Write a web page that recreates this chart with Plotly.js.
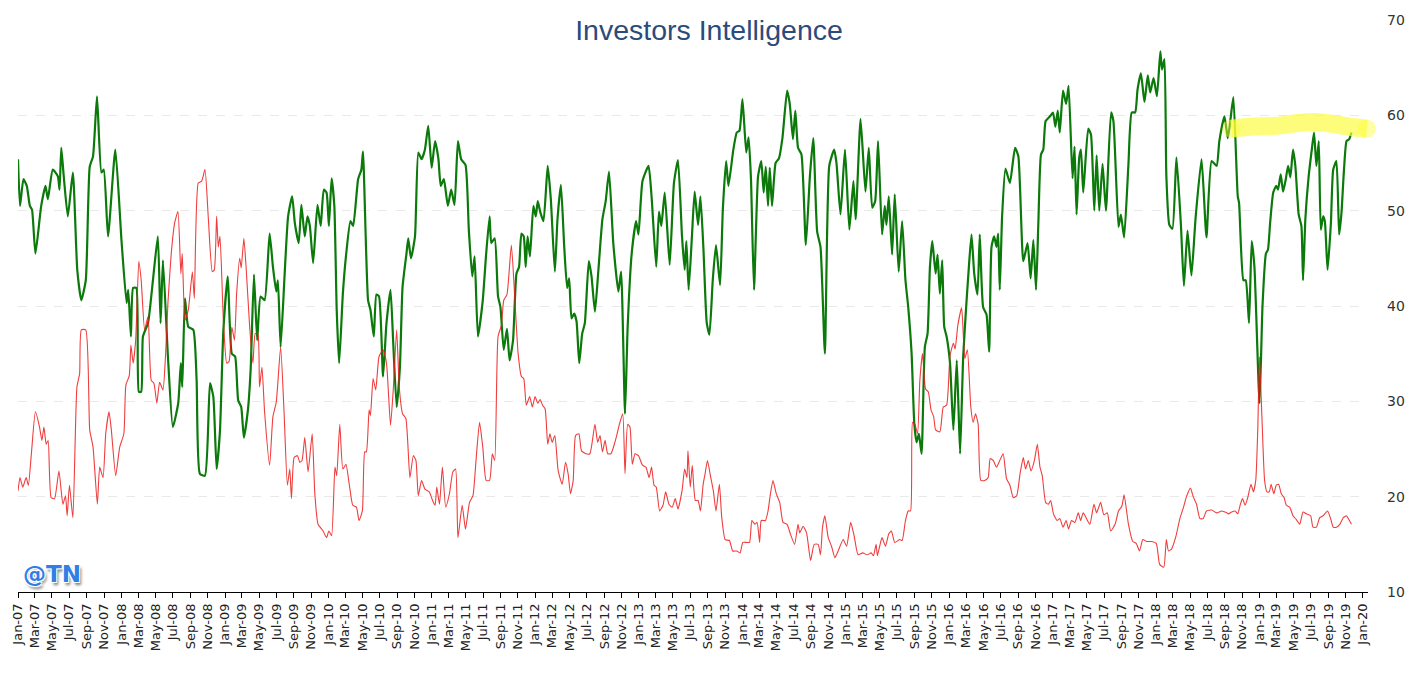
<!DOCTYPE html>
<html>
<head>
<meta charset="utf-8">
<script src="https://cdn.plot.ly/plotly-3.0.1.min.js"></script>
<style>
  html, body { margin: 0; padding: 0; background: #ffffff; }
  #chart { width: 1416px; height: 693px; }
</style>
</head>
<body>
<div id="chart"></div>
<script>
// Positions along time are given as months elapsed since 1 Jan 2007.
const bullsMonths = [
0.0,0.23,0.62,1.0,1.39,1.66,2.08,2.74,3.24,3.51,4.09,4.67,4.86,5.06,5.33,5.83,6.41,6.91,7.37,7.88,8.34,8.73,9.19,9.69,9.96,10.46,11.31,12.01,12.59,12.78,13.09,13.36,13.75,14.05,14.32,14.52,15.1,15.68,16.25,16.56,16.83,17.41,17.99,
18.6,18.9,19.06,19.37,19.75,20.33,20.72,21.1,21.68,22.26,22.65,23.04,23.42,23.81,24.31,24.77,25.16,25.55,25.93,26.24,26.7,27.01,27.4,27.78,28.17,28.63,29.21,29.6,29.99,30.18,30.49,30.95,31.34,31.8,32.11,32.57,32.88,33.27,33.58,33.85,34.23,34.74,35.12,35.47,35.78,36.05,36.36,36.67,36.94,37.24,37.71,38.09,38.6,
38.91,39.49,39.87,40.06,40.64,40.91,41.3,41.61,41.92,42.38,42.77,43.23,43.54,43.93,44.31,44.62,45.08,45.28,45.59,46.05,46.44,46.82,47.21,47.59,47.98,48.37,48.75,49.02,49.41,49.91,50.3,50.68,51.07,51.45,51.96,52.34,52.73,53.0,53.39,53.96,54.35,54.74,54.93,55.32,55.7,55.97,56.36,56.74,57.05,57.44,57.83,58.13,58.41,58.68,58.91,
59.13,59.4,59.79,60.06,60.29,60.56,60.94,61.45,61.83,62.3,62.6,62.99,63.38,63.72,63.96,64.23,64.53,64.8,65.11,65.46,65.77,66.23,66.54,66.93,67.31,67.78,68.16,68.55,69.05,69.63,69.94,70.4,70.71,71.18,71.68,71.95,72.41,73.11,73.49,74.07,74.38,74.65,75.04,75.62,76.12,76.58,77.04,77.35,77.55,77.82,78.2,78.51,78.9,79.17,
79.51,79.89,80.2,80.59,80.97,81.44,81.75,82.13,82.4,82.98,83.37,83.68,84.02,84.45,84.72,84.99,85.37,85.88,86.26,86.53,86.77,87.03,87.23,87.5,87.92,88.31,88.7,89.24,89.54,89.93,90.2,90.51,90.9,91.4,91.86,92.25,92.71,93.1,93.6,94.1,94.68,94.95,95.41,95.92,96.42,96.88,97.15,97.77,98.35,98.73,99.12,99.47,
99.81,100.27,100.58,100.77,101.04,101.43,101.74,102.2,102.59,102.97,103.28,103.67,103.98,104.25,104.52,104.83,105.21,105.52,105.79,106.06,106.45,106.68,106.95,107.22,107.45,107.72,108.11,108.49,108.88,109.27,109.65,110.04,110.35,110.62,110.93,111.31,111.58,111.97,112.36,112.66,112.93,113.24,113.51,113.71,113.9,114.17,114.55,115.06,115.64,116.02,116.6,117.1,117.45,117.76,118.07,118.34,118.65,118.92,119.19,119.69,
120.03,120.3,120.57,120.8,121.19,121.58,121.89,122.35,122.58,122.81,123.12,123.32,123.59,124.17,124.48,124.86,125.13,125.44,125.83,126.22,126.8,127.07,127.65,127.92,128.3,128.81,129.19,129.58,129.85,130.24,130.66,131.05,131.32,131.71,132.09,132.48,132.67,132.95,133.18,133.56,133.95,134.41,134.92,135.27,135.69,136.15,136.62,137.31,137.89,138.48,139.05,139.36,139.94,
140.33,140.6,140.99,141.49,141.64,142.14,142.41,142.8,143.11,143.42,144.0,144.34,144.73,144.96,145.23,145.62,146.0,146.2,146.51,146.78,147.09,147.36,147.63,147.94,148.21,148.59,148.9,149.09,149.36,149.75,150.14,150.37,150.64,150.91,151.14,151.41,151.6,151.91,152.3,152.57,152.95,153.26,153.53,153.8,154.11,154.42,154.69
];
const bullsValues = [
55.4,50.5,53.3,52.6,50.5,50.1,45.5,50.5,52.6,51.2,54.3,53.6,52.2,56.6,53.8,49.4,54.0,43.8,40.6,42.7,54.6,55.7,62.0,54.0,54.3,47.3,56.4,46.9,40.3,41.7,36.8,41.9,41.9,31.0,31.0,36.8,38.2,42.7,47.3,38.2,44.8,34.7,27.3,
29.8,34.0,31.5,40.8,37.8,37.5,32.2,22.4,22.2,31.9,30.5,22.9,26.9,37.5,43.1,35.0,34.7,30.1,29.4,26.2,29.1,33.3,43.3,36.4,41.0,40.6,47.6,44.1,41.5,42.7,35.7,43.4,49.4,51.5,48.7,46.6,50.6,47.3,49.4,48.4,44.5,50.6,48.4,52.2,51.9,48.4,53.4,50.5,39.6,34.0,41.3,45.2,48.9,
48.4,53.3,54.3,56.2,40.6,39.6,36.8,41.2,41.0,32.6,38.2,41.7,36.1,29.4,33.6,42.0,45.5,47.1,45.0,47.3,56.1,55.4,56.4,58.9,54.5,57.3,55.4,52.6,53.3,50.5,52.2,50.6,57.3,55.4,54.8,48.0,43.1,45.2,36.8,40.6,45.5,49.4,46.6,47.1,41.0,39.9,35.4,37.6,34.3,36.4,43.4,44.1,47.6,47.3,44.1,
47.3,45.2,50.5,49.4,51.0,49.9,48.9,54.7,51.2,43.6,49.1,52.7,46.2,41.9,42.9,38.7,39.2,38.4,34.0,37.1,38.2,44.7,43.1,39.4,43.6,49.1,51.0,54.1,46.6,41.5,43.6,28.7,37.8,45.5,48.9,47.5,53.1,54.7,51.5,44.1,49.9,48.4,51.9,44.3,52.9,55.3,47.3,43.8,46.8,41.7,47.3,52.0,48.5,51.5,
46.0,38.2,37.0,42.7,46.4,42.2,50.1,55.2,52.6,56.4,58.2,58.4,61.7,56.1,57.7,53.3,41.7,53.6,55.2,51.9,54.6,50.5,54.5,50.5,55.0,55.5,57.6,62.6,61.3,57.5,60.5,56.6,55.9,46.4,53.6,57.6,47.8,46.2,35.0,54.7,56.4,55.0,49.6,56.4,48.0,53.1,49.1,59.6,52.0,56.6,50.3,51.0,
57.3,47.5,50.5,48.5,51.5,45.4,51.7,43.6,48.9,42.7,39.9,35.0,27.6,25.7,26.6,24.5,35.7,37.1,44.1,46.8,43.4,45.4,41.3,44.8,37.8,36.8,34.0,27.0,34.3,24.5,34.7,40.3,44.5,47.5,43.4,41.2,47.5,39.9,39.1,35.2,46.2,47.3,46.2,47.6,41.7,49.4,54.4,52.9,56.6,55.7,44.7,46.6,42.9,46.9,41.7,48.7,55.9,56.4,59.4,59.9,
60.3,58.8,60.5,58.2,62.6,61.2,63.1,53.4,56.7,49.6,55.6,56.4,51.9,58.6,58.0,50.0,55.8,50.0,54.9,50.0,60.3,59.4,48.3,49.6,47.2,54.9,60.3,60.3,62.7,64.4,61.4,64.2,62.4,63.9,62.0,66.7,64.8,65.9,53.7,48.5,48.1,55.6,48.5,42.1,47.9,43.2,49.2,55.4,47.2,55.2,54.7,57.3,59.9,
57.6,59.2,61.9,51.5,50.8,42.7,42.7,38.2,46.8,44.1,29.8,40.0,45.5,45.9,48.7,51.9,52.6,52.2,53.8,52.0,53.3,54.7,53.5,56.4,54.7,49.6,48.4,42.7,49.1,53.6,56.6,58.2,54.7,57.3,48.0,49.4,48.9,43.8,48.7,54.3,55.2,47.5,49.8,54.1,57.3,57.5,58.2
];

const bearsMonths = [
0.0,0.23,0.54,0.93,1.2,1.58,2.08,2.55,2.82,3.05,3.32,3.55,3.9,4.29,4.79,5.25,5.56,5.75,6.02,6.41,6.87,7.18,7.37,7.88,8.34,8.73,9.23,9.5,9.88,10.19,10.58,10.85,11.35,11.81,12.28,12.51,12.9,13.09,13.36,13.67,14.05,14.32,14.71,15.1,15.48,15.79,16.14,16.45,16.83,17.14,17.41,17.8,18.19,18.57,
18.9,19.06,19.37,19.75,20.22,20.45,20.91,21.3,21.68,22.07,22.53,22.77,23.04,23.23,23.42,23.81,24.19,24.46,24.77,25.08,25.35,25.74,25.93,26.24,26.51,26.9,27.28,27.55,27.86,28.05,28.33,28.63,29.21,29.6,29.99,30.49,30.87,31.26,31.53,31.72,32.03,32.42,32.69,32.96,33.27,33.65,34.12,34.43,34.81,35.39,35.78,36.05,36.36,36.74,36.94,37.32,37.71,38.09,38.48,38.87,
39.29,39.6,39.99,40.26,40.45,40.76,40.91,41.22,41.53,41.92,42.38,42.77,43.23,43.54,43.93,44.23,44.62,45.01,45.47,45.86,46.16,46.44,46.82,47.21,47.71,48.08,48.37,48.56,48.87,49.22,49.64,50.1,50.49,50.8,51.07,51.57,51.96,52.42,52.81,53.19,53.58,53.96,54.35,54.74,55.05,55.32,55.7,56.09,56.36,56.74,57.25,57.63,58.02,58.41,58.68,58.98,59.37,
59.67,59.98,60.29,60.56,60.83,61.14,61.45,61.72,61.99,62.3,62.68,63.14,63.53,63.84,64.11,64.42,64.69,65.07,65.38,65.89,66.35,66.93,67.24,67.51,67.78,68.09,68.4,68.78,69.17,69.44,69.75,70.13,70.4,70.71,70.98,71.25,71.56,71.95,72.41,72.8,73.18,73.49,73.8,74.07,74.46,74.84,75.15,75.54,75.92,76.27,76.58,77.04,77.35,77.62,77.74,78.01,78.24,78.59,78.9,79.17,79.48,
79.7,79.97,80.36,80.66,80.97,81.36,81.63,82.02,82.52,82.9,83.37,83.75,84.06,84.53,84.83,85.1,85.49,85.76,86.07,86.26,86.73,87.03,87.31,87.61,88.0,88.39,88.77,89.24,89.62,90.12,90.51,90.7,91.09,91.48,91.94,92.36,92.83,93.1,93.33,93.6,93.98,94.37,94.76,95.14,95.72,96.11,96.57,96.96,97.46,98.04,98.54,99.0,99.27,99.58,
99.73,100.0,100.27,100.66,101.04,101.35,101.74,102.32,102.59,102.97,103.28,103.55,103.78,104.05,104.36,104.63,104.94,105.29,105.6,105.91,106.22,106.45,106.95,107.34,107.72,108.11,108.49,108.69,109.0,109.46,109.85,110.15,110.54,110.81,111.08,111.39,111.7,112.16,112.55,112.78,113.13,113.51,113.9,114.29,114.67,115.06,115.44,115.83,116.22,116.6,116.87,117.18,117.49,117.88,118.22,118.53,118.8,119.19,119.5,119.77,120.08,
120.49,120.8,121.19,121.58,121.89,122.23,122.62,123.01,123.28,123.59,123.97,124.36,124.82,125.13,125.6,125.98,126.37,126.76,127.26,127.65,128.03,128.3,128.81,129.31,129.7,130.08,130.47,130.93,131.51,132.02,132.4,132.87,133.18,133.45,133.83,134.34,134.8,135.19,135.57,136.04,136.35,136.73,137.12,137.51,137.89,138.48,139.05,139.63,140.21,
140.41,140.79,141.18,141.49,141.76,142.03,142.34,142.65,143.03,143.3,143.57,143.8,144.0,144.27,144.58,144.85,145.12,145.35,145.7,146.0,146.27,146.58,146.89,147.16,147.55,147.94,148.32,148.71,149.09,149.48,149.98,150.25,150.64,151.02,151.41,151.91,152.3,152.57,152.95,153.34,153.73,154.11,154.38,154.69
];
const bearsValues = [
20.6,22.0,21.0,22.0,21.2,24.5,28.9,27.3,25.9,27.3,25.5,25.9,19.9,19.8,22.7,19.2,20.1,18.0,21.2,17.8,31.5,32.9,37.5,37.5,27.0,25.2,19.2,23.1,22.0,26.6,28.9,27.0,22.2,25.2,26.6,31.7,32.7,35.9,34.0,36.4,44.7,42.7,37.5,38.9,32.2,31.9,29.8,32.0,31.2,35.0,40.3,45.5,48.7,49.9,
43.4,45.5,38.5,39.6,43.6,40.8,52.9,53.1,54.3,49.1,43.6,43.8,49.4,46.2,47.3,38.5,34.0,34.2,37.8,36.4,41.3,45.0,44.0,47.1,43.8,37.8,34.0,37.1,37.1,31.5,33.6,28.9,23.3,28.4,29.9,35.7,29.1,21.2,22.9,19.8,24.1,24.3,23.6,23.8,26.2,22.6,26.6,20.3,17.1,16.4,15.7,16.4,15.9,23.1,22.2,27.6,22.9,23.4,21.2,19.1,
18.9,17.5,18.5,24.7,24.7,29.1,28.5,32.4,31.2,34.7,35.4,34.0,27.5,31.2,37.5,31.5,28.7,28.2,22.0,24.3,23.8,20.1,21.7,20.8,20.5,19.6,19.1,21.0,19.2,23.1,18.9,20.3,22.6,22.9,15.7,19.1,16.6,19.4,20.1,24.1,27.8,25.2,21.7,21.7,24.5,23.8,36.8,38.0,40.6,41.2,46.4,41.0,35.0,32.6,32.4,29.6,30.5,
29.4,30.5,29.8,30.2,29.6,29.2,25.5,26.6,25.7,26.4,22.7,21.3,23.6,22.4,20.3,21.7,26.4,26.6,24.8,24.5,24.5,27.6,25.7,26.4,24.7,25.9,24.5,24.5,25.5,26.4,27.6,28.7,22.4,27.6,27.3,23.4,24.5,24.3,23.3,23.1,22.0,23.1,21.2,21.0,18.5,19.1,20.5,19.2,18.9,19.8,18.7,20.6,22.9,22.0,24.8,21.0,23.3,19.6,19.6,18.5,21.3,
22.4,23.8,22.0,20.6,18.5,21.3,17.8,15.5,15.4,14.3,14.3,14.1,15.2,15.2,15.2,17.5,17.1,17.3,15.2,17.5,17.5,18.5,20.3,21.7,20.3,19.4,17.3,17.1,16.1,15.0,17.1,16.2,16.9,16.2,13.3,15.0,15.0,13.9,16.8,18.0,15.7,14.8,13.6,14.3,15.5,14.8,17.3,15.9,13.9,14.1,13.9,14.1,13.8,15.0,
13.8,14.8,15.7,14.8,16.1,16.4,15.2,15.5,15.4,17.5,18.5,18.5,27.8,27.6,26.6,32.2,35.0,31.3,31.0,29.1,28.4,27.0,26.8,29.4,29.6,34.8,36.1,35.5,38.0,39.8,34.5,35.4,29.4,27.8,28.7,27.6,21.7,21.7,22.0,24.0,23.8,23.1,23.8,24.5,21.9,21.2,19.9,20.1,22.4,24.1,22.9,23.8,22.7,23.8,25.5,23.1,22.2,19.4,19.2,19.6,18.2,
17.5,17.7,16.8,17.5,16.6,17.5,17.3,18.3,17.5,18.3,17.7,17.1,19.2,18.3,19.4,18.1,18.3,16.4,17.1,18.5,19.0,20.2,17.1,15.3,15.1,14.3,15.5,15.3,15.3,15.1,12.9,12.6,15.5,14.3,14.5,15.8,17.7,18.8,20.0,20.9,20.0,19.2,17.7,17.7,18.5,18.6,18.3,18.5,18.3,
18.2,18.4,18.5,18.2,19.1,19.8,19.1,19.9,21.3,20.5,21.7,27.0,34.7,28.4,21.7,20.5,20.5,21.3,20.3,21.2,21.3,20.3,19.9,19.1,18.9,18.0,17.6,17.1,18.4,18.2,18.0,16.8,16.8,17.8,18.0,18.5,17.6,16.8,16.8,17.1,17.8,18.0,17.6,17.1
];

// Hand-drawn yellow highlight stroke (months since Jan 2007, level)
const highlightMonths = [140.75, 143.0, 146.0, 148.5, 150.5, 152.5, 154.5, 156.45];
const highlightValues = [58.6, 58.8, 58.9, 59.2, 59.3, 59.1, 58.8, 58.6];

const xTickFormat = '%b-%y';
const titleText = 'Investors Intelligence';
const watermarkText = '@TN';

function monthToDate(m) {
  const whole = Math.floor(m);
  const frac = m - whole;
  const year = 2007 + Math.floor(whole / 12);
  const month = whole % 12;
  const start = Date.UTC(year, month, 1);
  const end = Date.UTC(year, month + 1, 1);
  const d = new Date(start + frac * (end - start));
  return d.toISOString().slice(0, 19).replace('T', ' ');
}

const bullsX = bullsMonths.map(monthToDate);
const bearsX = bearsMonths.map(monthToDate);
const hlX = highlightMonths.map(monthToDate);

const hlColor = 'rgba(252,252,60,0.68)';

const traces = [
  {
    type: 'scatter', mode: 'lines', name: 'Bulls',
    x: bullsX, y: bullsValues,
    line: { color: '#0b7a0b', width: 2.2, shape: 'spline', smoothing: 0.5 },
    hoverinfo: 'x+y'
  },
  {
    type: 'scatter', mode: 'lines', name: 'Bears',
    x: bearsX, y: bearsValues,
    line: { color: '#ee1c1c', width: 1.1, shape: 'spline', smoothing: 0.5 },
    opacity: 0.85,
    hoverinfo: 'x+y'
  },
  {
    type: 'scatter', mode: 'lines+markers', name: 'highlight',
    x: hlX, y: highlightValues,
    line: { color: hlColor, width: 18, shape: 'spline' },
    marker: { size: [18,0,0,0,0,0,0,18], color: hlColor, line: { width: 0 } },
    cliponaxis: false,
    hoverinfo: 'skip'
  }
];

const layout = {
  width: 1416, height: 693,
  margin: { l: 18, r: 48, t: 20, b: 101 },
  paper_bgcolor: '#ffffff', plot_bgcolor: '#ffffff',
  showlegend: false,
  title: {
    text: titleText,
    font: { family: 'Liberation Sans, Arial, sans-serif', size: 28.5, color: '#2a4b7c' },
    x: 709 / 1416, xanchor: 'center', xref: 'container',
    y: 1 - 30 / 693, yanchor: 'middle', yref: 'container'
  },
  xaxis: {
    type: 'date',
    range: [monthToDate(0), monthToDate(156.58)],
    tick0: '2007-01-01', dtick: 'M2', tickformat: xTickFormat,
    tickangle: -90,
    ticks: 'outside', ticklen: 5, tickwidth: 1, tickcolor: '#000000',
    showline: true, linecolor: '#000000', linewidth: 1.2,
    showgrid: false, zeroline: false,
    tickfont: { family: 'DejaVu Sans, sans-serif', size: 13, color: '#222222' },
    fixedrange: true
  },
  yaxis: {
    side: 'right',
    range: [10, 70], dtick: 10, tick0: 10,
    showgrid: true, gridcolor: '#e9e9e9', griddash: 'dash', gridwidth: 1,
    zeroline: false, showline: false, ticks: '',
    ticklabelstandoff: 18,
    tickfont: { family: 'DejaVu Sans, sans-serif', size: 14, color: '#333333' },
    fixedrange: true
  },
  annotations: [
    {
      text: watermarkText, xref: 'paper', yref: 'paper',
      x: 0.002, y: 0.032, xanchor: 'left', yanchor: 'middle',
      showarrow: false,
      font: { family: 'DejaVu Sans, sans-serif', size: 23, weight: 'bold', color: '#2f7fe6',
              shadow: '1px 1px 0 #fff, -1px -1px 0 #fff, 1px -1px 0 #fff, -1px 1px 0 #fff, 2px 3px 3px #777' }
    }
  ]
};

Plotly.newPlot('chart', traces, layout, { displayModeBar: false, staticPlot: true });
</script>
</body>
</html>
